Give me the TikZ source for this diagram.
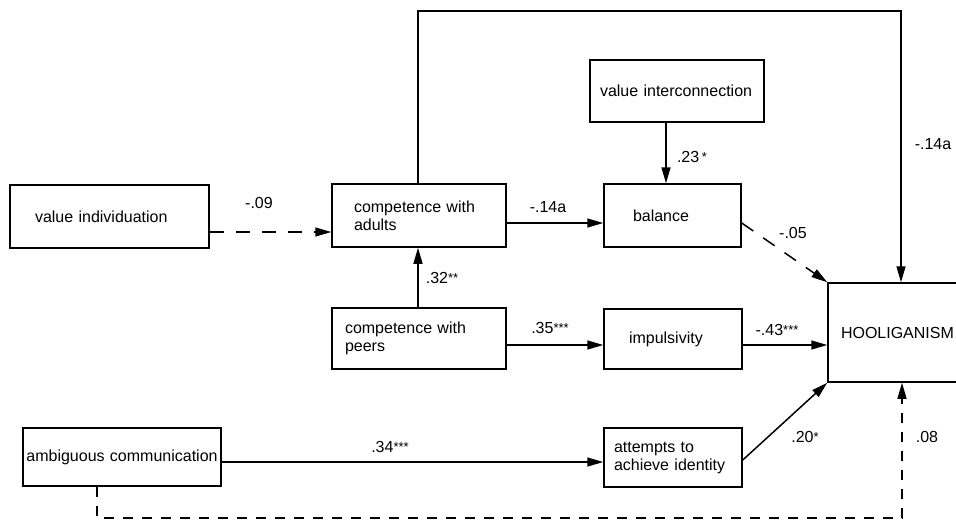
\documentclass[tikz,border=0pt]{standalone}
\usepackage{fontspec}
\setmainfont{Liberation Sans}
\usetikzlibrary{arrows.meta}
\newcommand\stars[1]{\raisebox{1pt}{\fontsize{13}{13}\selectfont #1}}
\begin{document}
\begin{tikzpicture}[x=1pt,y=-1pt,
  font=\fontsize{16}{18}\selectfont,
  >={Triangle[length=16pt,width=9pt]},
  line width=1.5pt,
  box/.style={draw, line width=1.5pt, rectangle, inner ysep=0pt, align=left},
  lab/.style={inner sep=0pt},
  dsh/.style={dash pattern=on 14pt off 12pt},
  dshb/.style={dash pattern=on 10pt off 9pt, line width=1.2pt}]
\useasboundingbox (0,0) rectangle (956,523);
% boxes
\node[box, text width=149pt, inner xsep=25pt, minimum height=63pt] (vi) at (109.5,216.5) {value~individuation};
\node[box, text width=130pt, inner xsep=22pt, minimum height=63pt] (ca) at (419,215.5) {competence~with\\adults};
\node[box, text width=154pt, inner xsep=10pt, minimum height=62pt] (vic) at (677,91) {value~interconnection};
\node[box, text width=79pt, inner xsep=29pt, minimum height=63pt] (bal) at (672.5,215.5) {balance};
\node[box, text width=148pt, inner xsep=13pt, minimum height=61pt] (cp) at (419,338.5) {competence~with\\peers};
\node[box, text width=88pt, inner xsep=25pt, minimum height=60pt] (imp) at (673,339) {impulsivity};
\node[box, text width=200pt, inner xsep=13pt, minimum height=99pt] (hool) at (941,332.5) {HOOLIGANISM};
\node[box, text width=196pt, inner xsep=1pt, minimum height=58pt, align=center] (amb) at (122,457) {ambiguous~communication};
\node[box, text width=118pt, inner xsep=10pt, minimum height=59pt] (att) at (673,457.5) {attempts~to\\achieve~identity};
% coordinates
\coordinate (tr) at (901,11);
\coordinate (bl) at (97,518);
\coordinate (br) at (902,518);
% connectors
\draw[dsh,->] ([yshift=-15.5pt]vi.east) -- ([yshift=-16.5pt]ca.west);
\draw[->] ([yshift=-7.5pt]ca.east) -- ([yshift=-7.5pt]bal.west);
\draw[->] ([xshift=-1pt]ca.north) |- (tr) -- (tr |- hool.north);
\draw[->] ([xshift=-6.5pt]bal.north |- vic.south) -- ([xshift=-6.5pt]bal.north);
\draw[dsh,->] ([yshift=-7.5pt]bal.east) -- (hool.north west);
\draw[->] ([xshift=-1pt]cp.north) -- ([xshift=-1pt]ca.south);
\draw[->] ([yshift=-6.5pt]cp.east) -- ([yshift=-6pt]imp.west);
\draw[->] ([yshift=-6pt]imp.east) coordinate (ie) -- (ie -| hool.west);
\draw[->] ([yshift=-5pt]amb.east) coordinate (ae) -- (ae -| att.west);
\draw[->] ([yshift=-2.5pt]att.east) -- (hool.south west);
\draw[dshb,->] (bl |- amb.south) -- (bl) -- (br) -- (br |- hool.south);
% labels
\node[lab] (l1) at (259,203) {-.09};
\node[lab] (l2) at (548,207) {-.14a};
\node[lab] (l3) at (692,157) {.23\,\stars{*}};
\node[lab] (l4) at (933,144) {-.14a};
\node[lab] (l5) at (793,233) {-.05};
\node[lab] (l6) at (442,278) {.32\stars{**}};
\node[lab] (l7) at (550,328) {.35\stars{***}};
\node[lab] (l8) at (777,330) {-.43\stars{***}};
\node[lab] (l9) at (390,447) {.34\stars{***}};
\node[lab] (l10) at (805,437) {.20\stars{*}};
\node[lab] (l11) at (927,437) {.08};
\end{tikzpicture}
\end{document}
